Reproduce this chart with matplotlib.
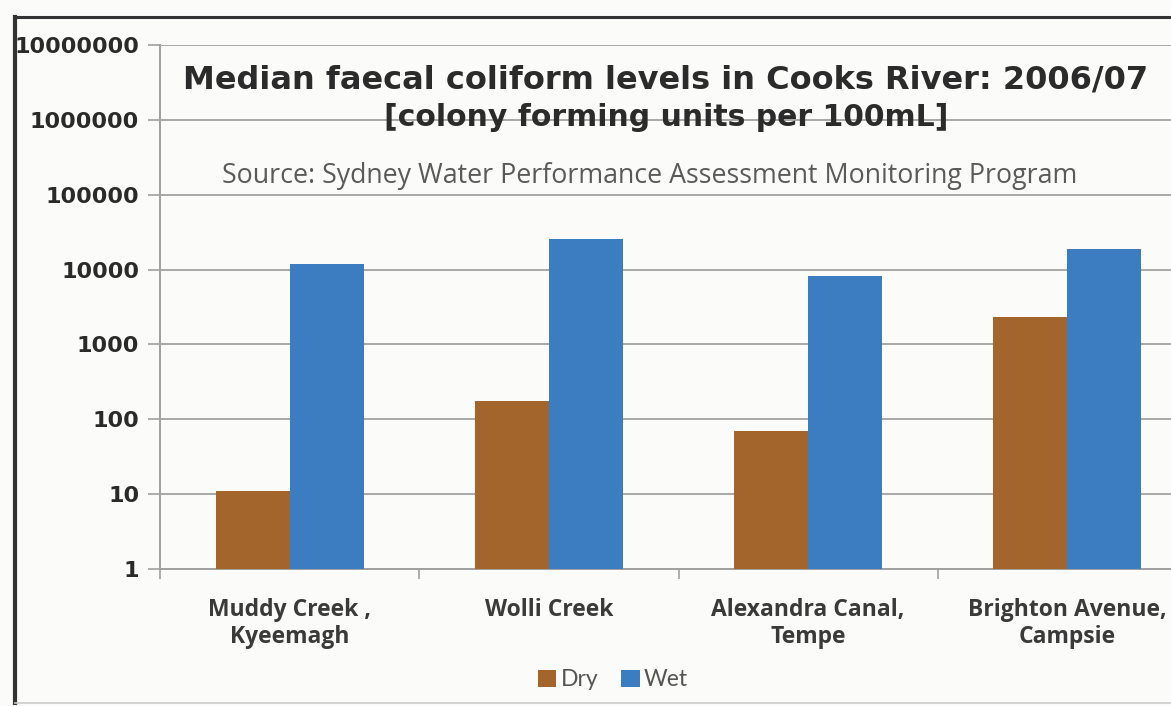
import matplotlib
matplotlib.use("Agg")
import matplotlib.pyplot as plt
import numpy as np
from matplotlib.lines import Line2D

categories = ["Muddy Creek ,\nKyeemagh", "Wolli Creek", "Alexandra Canal,\nTempe", "Brighton Avenue,\nCampsie"]
dry = [11, 175, 70, 2300]
wet = [11800, 26000, 8300, 19000]
series_names = ["Dry", "Wet"]
ytick_vals = [1, 10, 100, 1000, 10000, 100000, 1000000, 10000000]
ytick_labels = ["1", "10", "100", "1000", "10000", "100000", "1000000", "10000000"]

dry_color = "#a4652c"
wet_color = "#3b7dc0"

W, H = 1171, 706
fig = plt.figure(figsize=(W / 100, H / 100), dpi=100)
fig.patch.set_facecolor("#fbfbf9")

ax = fig.add_axes([160 / W, 1 - 569 / H, 1037 / W, (569 - 45) / H])
ax.set_facecolor("#fbfbf9")
x = np.arange(len(categories))
bw = 0.285
ax.bar(x - bw / 2, dry, width=bw, color=dry_color, label=series_names[0], zorder=3)
ax.bar(x + bw / 2, wet, width=bw, color=wet_color, label=series_names[1], zorder=3)

ax.set_yscale("log")
ax.set_ylim(1, 10000000)
ax.set_xlim(-0.5, len(categories) - 0.5)
ax.set_yticks(ytick_vals)
ax.set_yticklabels(ytick_labels, fontsize=16, fontweight="bold", color="#2a2a2a", family="DejaVu Sans")
ax.yaxis.set_minor_locator(matplotlib.ticker.NullLocator())
ax.tick_params(axis="y", length=9, color="#a0a0a0", width=1.2, pad=6)
ax.grid(axis="y", color="#a8a8a8", linewidth=1.4, zorder=0)

ax.set_xticks(x)
ax.set_xticklabels(categories, fontsize=16.5, fontweight="bold", color="#3a3a3a", family="Open Sans", linespacing=1.15)
ax.tick_params(axis="x", length=0, pad=21)
ax.set_xticks(np.arange(len(categories) + 1) - 0.5, minor=True)
ax.tick_params(axis="x", which="minor", length=7, color="#a0a0a0", width=1.2)

for s in ["top", "right"]:
    ax.spines[s].set_visible(False)
ax.spines["left"].set_color("#a0a0a0")
ax.spines["left"].set_linewidth(1.4)
ax.spines["bottom"].set_color("#a0a0a0")
ax.spines["bottom"].set_linewidth(1.4)

fig.text(666 / W, 1 - 80 / H, "Median faecal coliform levels in Cooks River: 2006/07",
         ha="center", va="center", fontsize=23, fontweight="heavy", color="#2b2b2b", family="DejaVu Sans")
fig.text(666 / W, 1 - 118 / H, "[colony forming units per 100mL]",
         ha="center", va="center", fontsize=21.5, fontweight="heavy", color="#2b2b2b", family="DejaVu Sans")
fig.text(650 / W, 1 - 176 / H, "Source: Sydney Water Performance Assessment Monitoring Program",
         ha="center", va="center", fontsize=19.3, color="#5a5a5a", family="Open Sans")

leg = fig.legend(loc="center", bbox_to_anchor=(613 / W, 1 - 680 / H), ncol=2, frameon=False,
                 handlelength=0.8, handleheight=0.8, handletextpad=0.2, columnspacing=1.0,
                 prop={"family": "Lato", "size": 16.5})
for t in leg.get_texts():
    t.set_color("#555555")

# outer frame
fig.add_artist(Line2D([15 / W, 15 / W], [1 - 17 / H, 1 - 703 / H], transform=fig.transFigure, color="#333333", linewidth=3))
fig.add_artist(Line2D([15 / W, 1.0], [1 - 17 / H, 1 - 17 / H], transform=fig.transFigure, color="#333333", linewidth=2.2))
fig.add_artist(Line2D([15 / W, 1.0], [1 - 703 / H, 1 - 703 / H], transform=fig.transFigure, color="#cccccc", linewidth=1.2))

fig.savefig("out.png", dpi=100, facecolor=fig.get_facecolor())
